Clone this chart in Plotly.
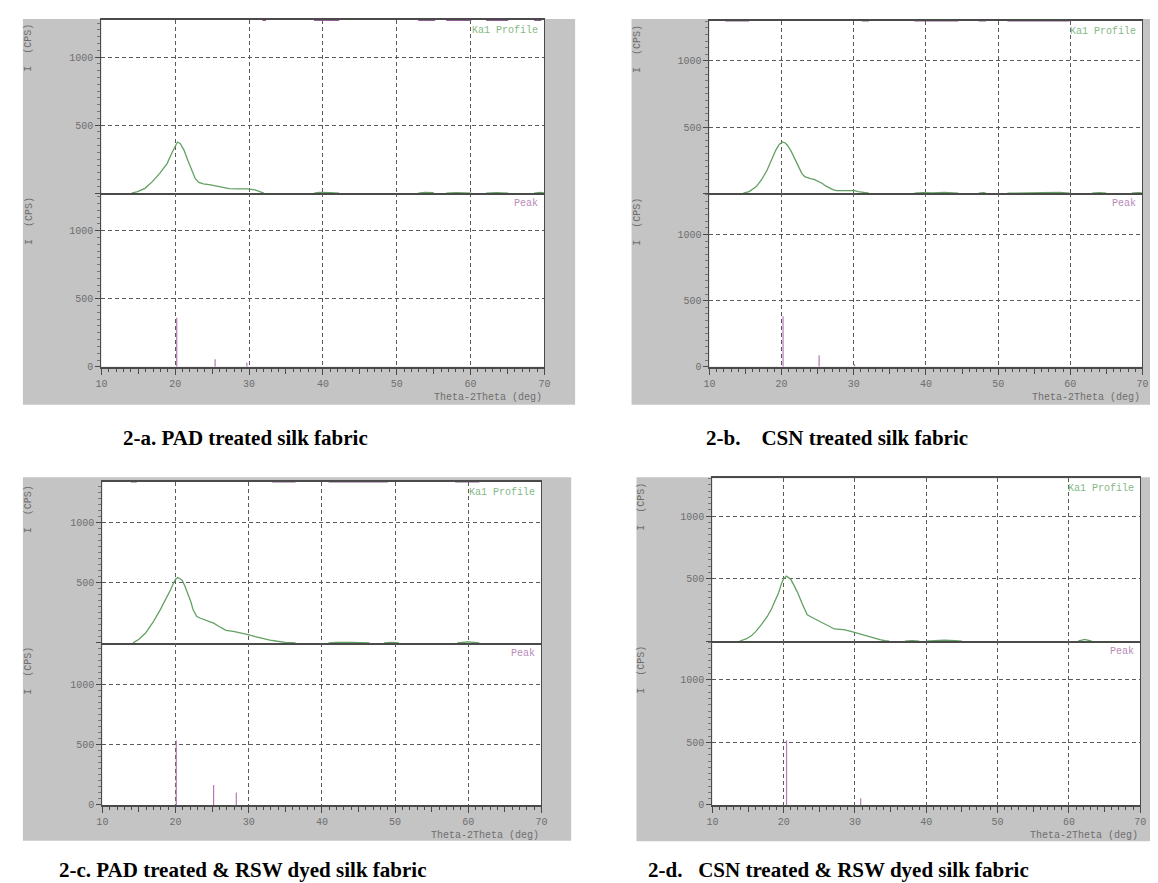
import plotly.graph_objects as go

W, H = 1158, 883

# ---------------- data ----------------
# Ka1 profile curves (2theta in deg, intensity in CPS); None = gap where no trace is visible
prof_a_x = [14.1, 14.9, 15.9, 16.9, 17.9, 18.9, 19.6, 20.1, 20.3, 20.7, 21.2, 21.7, 22.2, 22.7, 23.2, 23.8, 24.8,
            25.6, 26.6, 27.3, 28.5, 29.8, 30.8, 31.5, 32.0, None, 38.8, 39.5, 41.0, 42.2, None, 52.9, 53.8, 55.0,
            None, 56.7, 58.0, 60.1, None, 62.1, 63.5, 65.1, None, 68.6, 69.5, 70.0]
prof_a_y = [0, 12, 36, 85, 146, 218, 303, 359, 376, 364, 315, 243, 170, 109, 80, 68, 61,
            53, 41, 34, 32, 32, 24, 12, 0, None, 0, 6, 5, 0, None, 0, 6, 4,
            None, 0, 5, 0, None, 0, 5, 0, None, 0, 6, 0]

prof_b_x = [14.7, 15.5, 16.5, 17.2, 18.0, 18.6, 19.2, 19.7, 20.15, 20.5, 20.8, 21.3, 21.8, 22.3, 22.8, 23.2,
            23.5, 24.0, 24.5, 25.0, 25.6, 26.1, 26.6, 27.1, 27.6, 28.6, 29.1, 29.6, 30.1, 30.6, 31.3, 32.1,
            None, 38.4, 39.5, 41.0, 42.5, 44.5, None, 47.3, 48.0, 48.3, None, 51.3, 53.0, 56.0, 58.5, 59.9,
            None, 63.0, 64.0, 65.0, None, 68.5, 69.5, 70.0]
prof_b_y = [0, 12, 50, 100, 175, 250, 326, 370, 388, 380, 363, 320, 263, 205, 150, 125,
            118, 110, 105, 92, 75, 55, 38, 27, 20, 20, 25, 25, 20, 12, 5, 0,
            None, 0, 5, 3, 6, 0, None, 0, 4, 0, None, 0, 3, 4, 7, 0,
            None, 0, 4, 0, None, 0, 5, 0]

prof_c_x = [14.2, 15.0, 15.9, 16.9, 17.9, 18.4, 18.9, 19.3, 19.7, 20.0, 20.3, 20.6, 20.9, 21.3, 21.7, 22.1,
            22.4, 22.7, 22.9, 23.4, 23.9, 24.5, 25.2, 26.0, 26.9, 27.9, 28.9, 29.9, 30.9, 31.9, 32.9, 33.9,
            35.0, 36.4, None, 40.9, 42.0, 44.0, 46.0, 46.5, None, 48.5, 49.5, 50.5, None, 58.5, 60.0, 61.5]
prof_c_y = [0, 30, 82, 170, 275, 330, 385, 440, 494, 530, 544, 535, 522, 470, 412, 340,
            275, 240, 220, 205, 192, 180, 165, 135, 104, 96, 85, 69, 52, 36, 24, 14,
            5, 0, None, 0, 5, 4, 5, 0, None, 0, 5, 0, None, 0, 8, 0]

prof_d_x = [13.8, 14.8, 15.5, 16.1, 16.9, 17.7, 18.3, 18.9, 19.3, 19.7, 20.0, 20.4, 20.7, 21.0, 21.5, 22.0,
            22.6, 23.3, 24.0, 24.6, 25.2, 25.8, 26.5, 27.1, 27.8, 28.4, 29.3, 30.2, 31.1, 32.0, 32.8, 33.5,
            34.2, 34.8, None, 37.0, 38.0, 39.0, None, 40.0, 41.0, 42.5, 44.0, 45.0, None, 61.3, 62.2, 63.2]
prof_d_y = [0, 20, 45, 79, 135, 198, 260, 330, 390, 462, 500, 520, 510, 493, 440, 383,
            300, 211, 190, 172, 152, 132, 112, 98, 95, 92, 80, 66, 48, 32, 20, 13,
            5, 0, None, 0, 4, 0, None, 0, 5, 8, 5, 0, None, 0, 15, 0]

# Peak positions and intensities
peak_a_x = [20.2, 25.4, 29.7]
peak_a_y = [360, 56, 30]
peak_b_x = [20.2, 25.2, 30.1]
peak_b_y = [382, 87, 20]
peak_c_x = [20.1, 25.2, 28.3]
peak_c_y = [536, 165, 104]
peak_d_x = [20.4, 30.8]
peak_d_y = [516, 53]

# Overflowing raw-trace segments visible at the top edge (start, end in deg)
raw_a = [[31.8, 32.3], [38.8, 42.2], [52.9, 55.2], [56.7, 60.1], [62.1, 65.1], [68.6, 69.6]]
raw_b = [[12.2, 15.5], [31.1, 32.1], [38.4, 44.5], [47.3, 48.3], [51.3, 59.9]]
raw_c = [[13.9, 14.7], [33.2, 36.4], [40.9, 49.0], [58.2, 61.5]]
raw_d = []

captions = ["2-a. PAD treated silk fabric",
            "2-b.\u00a0\u00a0\u00a0\u00a0CSN treated silk fabric",
            "2-c. PAD treated &amp; RSW dyed silk fabric",
            "2-d.\u00a0\u00a0\u00a0CSN treated &amp; RSW dyed silk fabric"]

x_ticks = [10, 20, 30, 40, 50, 60, 70]
x_mid_ticks = [15, 25, 35, 45, 55, 65]
y_ticks = [0, 500, 1000]

# ---------------- layout geometry (pixels) ----------------
panels = [
    dict(l=88.3, r=536.0, top=12.0, mid=186.7, bot=361.7, ppk=137.2, grey=(9, 11, 567, 400), cap=(108, 433),
         ylab_x=15, prof=(prof_a_x, prof_a_y), peak=(peak_a_x, peak_a_y), raw=raw_a),
    dict(l=702.7, r=1140.3, top=12.7, mid=186.7, bot=361.7, ppk=133.4, grey=(624, 11, 1158, 400), cap=(697, 433),
         ylab_x=630, prof=(prof_b_x, prof_b_y), peak=(peak_b_x, peak_b_y), raw=raw_b),
    dict(l=89.3, r=533.0, top=477.3, mid=640.0, bot=803.3, ppk=121.2, grey=(9, 473, 563, 839.5), cap=(43, 869),
         ylab_x=15, prof=(prof_c_x, prof_c_y), peak=(peak_c_x, peak_c_y), raw=raw_c),
    dict(l=705.7, r=1138.0, top=474.0, mid=638.3, bot=803.3, ppk=126.2, grey=(629, 473, 1158, 840), cap=(639, 869),
         ylab_x=634, prof=(prof_d_x, prof_d_y), peak=(peak_d_x, peak_d_y), raw=raw_d),
]

GREEN = "#62a062"
PURPLE = "#b47ab4"
AXC = "#4a4a4a"
GRIDC = "#5a5a5a"
TICKF = dict(family="Liberation Mono", size=10, color="#6e6e6e")
GRIDDASH = "4px,3px"


def px(xp):
    return xp / W


def py(yp):
    return 1 - yp / H


fig = go.Figure()
layout = dict(width=W, height=H, margin=dict(l=0, r=0, t=0, b=0), autosize=False,
              paper_bgcolor="white", plot_bgcolor="white", showlegend=False, hovermode=False)
shapes = []
annotations = []


def nm(a, i):
    return a + ("" if i == 1 else str(i))


xi = 0
yi = 0
for k, p in enumerate(panels):
    gx0, gy0, gx1, gy1 = p["grey"]
    shapes.append(dict(type="rect", xref="paper", yref="paper", x0=px(gx0), x1=px(gx1), y0=py(gy1), y1=py(gy0),
                       fillcolor="#c4c4c4", line=dict(width=0), layer="below"))
    top_range = (p["mid"] - p["top"]) / p["ppk"] * 1000
    bot_range = (p["bot"] - p["mid"]) / p["ppk"] * 1000
    xdom = [px(p["l"]), px(p["r"])]

    xt, yt = xi + 1, yi + 1
    xb, yb = xi + 2, yi + 2
    xo = xi + 3
    xi += 3
    yi += 2

    # top (profile) subplot
    layout[nm("xaxis", xt)] = dict(domain=xdom, range=[10, 70], anchor=nm("y", yt), showline=True, linecolor=AXC,
                                   linewidth=1.5, mirror=True, ticks="", showticklabels=False, tickvals=x_ticks,
                                   showgrid=True, gridcolor=GRIDC, gridwidth=1, griddash=GRIDDASH, zeroline=False)
    layout[nm("yaxis", yt)] = dict(domain=[py(p["mid"]), py(p["top"])], range=[0, top_range], anchor=nm("x", xt),
                                   showline=True, linecolor=AXC, linewidth=1, mirror=True, ticks="outside",
                                   ticklen=5, tickcolor=AXC, tickvals=y_ticks,
                                   ticktext=["", str(y_ticks[1]), str(y_ticks[2])], tickfont=TICKF,
                                   showgrid=True, gridcolor=GRIDC, gridwidth=1, griddash=GRIDDASH, zeroline=False,
                                   minor=dict(ticks="outside", ticklen=3, dtick=50, tick0=0, tickcolor="#777",
                                              showgrid=False))
    # bottom (peak) subplot
    layout[nm("xaxis", xb)] = dict(domain=xdom, range=[10, 70], anchor=nm("y", yb), showline=True, linecolor=AXC,
                                   linewidth=1.5, mirror=False, ticks="outside", ticklen=6, tickcolor=AXC,
                                   tickvals=x_ticks, ticktext=[str(v) for v in x_ticks], tickfont=TICKF,
                                   showgrid=True, gridcolor=GRIDC, gridwidth=1, griddash=GRIDDASH, zeroline=False,
                                   minor=dict(ticks="outside", ticklen=3, dtick=1, tick0=10, tickcolor=AXC,
                                              showgrid=False))
    layout[nm("xaxis", xo)] = dict(domain=xdom, range=[10, 70], anchor=nm("y", yb), overlaying=nm("x", xb),
                                   showline=False, ticks="outside", ticklen=6, tickcolor=AXC, tickvals=x_mid_ticks,
                                   showticklabels=False, showgrid=False, zeroline=False)
    layout[nm("yaxis", yb)] = dict(domain=[py(p["bot"]), py(p["mid"])], range=[0, bot_range], anchor=nm("x", xb),
                                   showline=True, linecolor=AXC, linewidth=1, mirror=True, ticks="outside",
                                   ticklen=5, tickcolor=AXC, tickvals=y_ticks, ticktext=[str(v) for v in y_ticks],
                                   tickfont=TICKF, showgrid=True, gridcolor=GRIDC, gridwidth=1, griddash=GRIDDASH,
                                   zeroline=False,
                                   minor=dict(ticks="outside", ticklen=3, dtick=50, tick0=0, tickcolor="#777",
                                              showgrid=False))

    # white plot areas
    for xa, ya in ((xt, yt), (xb, yb)):
        shapes.append(dict(type="rect", xref=nm("x", xa) + " domain", yref=nm("y", ya) + " domain",
                           x0=0, x1=1, y0=0, y1=1, fillcolor="white", line=dict(width=0), layer="below"))

    # traces
    fig.add_trace(go.Scatter(x=p["prof"][0], y=p["prof"][1], mode="lines", connectgaps=False,
                             line=dict(color=GREEN, width=1.3), xaxis=nm("x", xt), yaxis=nm("y", yt)))
    rx, ry = [], []
    for s0, s1 in p["raw"]:
        rx += [s0, s1, None]
        ry += [top_range, top_range, None]
    if rx:
        fig.add_trace(go.Scatter(x=rx, y=ry, mode="lines", line=dict(color="#8e5e94", width=2),
                                 xaxis=nm("x", xt), yaxis=nm("y", yt)))
    kx, ky = [], []
    for x0, h in zip(*p["peak"]):
        kx += [x0, x0, None]
        ky += [0, h, None]
    fig.add_trace(go.Scatter(x=kx, y=ky, mode="lines", line=dict(color=PURPLE, width=1.2),
                             xaxis=nm("x", xb), yaxis=nm("y", yb)))
    fig.add_trace(go.Scatter(x=[], y=[], xaxis=nm("x", xo), yaxis=nm("y", yb)))

    # labels inside plot
    annotations.append(dict(text="Ka1 Profile", xref=nm("x", xt) + " domain", yref=nm("y", yt) + " domain",
                            x=1, y=1, xanchor="right", yanchor="top", xshift=-4, yshift=-3, showarrow=False,
                            font=dict(family="Liberation Mono", size=10, color="#84b884")))
    annotations.append(dict(text="Peak", xref=nm("x", xb) + " domain", yref=nm("y", yb) + " domain",
                            x=1, y=1, xanchor="right", yanchor="top", xshift=-4, yshift=-3, showarrow=False,
                            font=dict(family="Liberation Mono", size=10, color="#b88ab8")))
    # y axis titles
    for yy0, yy1 in ((p["top"], p["mid"]), (p["mid"], p["bot"])):
        annotations.append(dict(text="I\u00a0\u00a0(CPS)", xref="paper", yref="paper", x=px(p["ylab_x"]),
                                y=py(yy0 + 2), xanchor="center", yanchor="top", textangle=-90, showarrow=False,
                                font=dict(family="Liberation Mono", size=10, color="#6e6e6e")))
    # x axis title
    annotations.append(dict(text="Theta-2Theta (deg)", xref="paper", yref="paper", x=px(p["r"]),
                            y=py(p["bot"] + 31), xanchor="right", yanchor="middle", showarrow=False,
                            font=dict(family="Liberation Mono", size=10, color="#6e6e6e")))
    # caption
    annotations.append(dict(text="<b>" + captions[k] + "</b>", xref="paper", yref="paper", x=px(p["cap"][0]),
                            y=py(p["cap"][1]), xanchor="left", yanchor="middle", showarrow=False,
                            font=dict(family="Liberation Serif", size=21, color="black")))

layout["shapes"] = shapes
layout["annotations"] = annotations
fig.update_layout(**layout)
fig.write_html("out.html")
